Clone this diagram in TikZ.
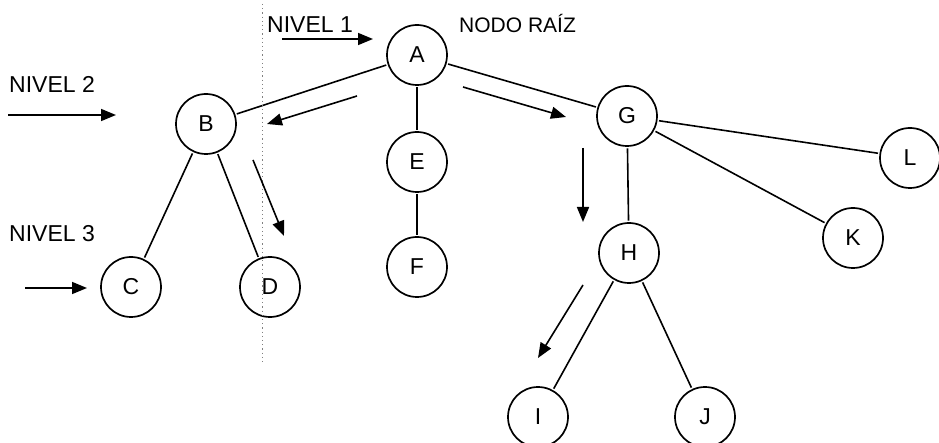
\documentclass[tikz,border=0pt]{standalone}
\usepackage{fontspec}
\setmainfont{Liberation Sans}
\usetikzlibrary{arrows.meta}
\begin{document}
\begin{tikzpicture}[x=1pt,y=-1pt,
  treenode/.style={circle,draw,line width=1.7pt,minimum size=60pt,inner sep=0pt,font=\fontsize{23}{26}\selectfont},
  branch/.style={line width=1.6pt,shorten <=1.5pt,shorten >=1.5pt},
  pointer/.style={line width=1.6pt,-{Triangle[length=15pt,width=12pt]}},
  levellabel/.style={anchor=base west,inner sep=0pt,font=\fontsize{23}{26}\selectfont},
  guide/.style={gray,line width=0.6pt,dash pattern=on 1.2pt off 3pt}]
\useasboundingbox (0,0) rectangle (939,443);

% tree nodes
\node[treenode] (A) at (417,55) {A};
\node[treenode] (B) at (206,124) {B};
\node[treenode] (C) at (131,287) {C};
\node[treenode] (D) at (270,287) {D};
\node[treenode] (E) at (417,162) {E};
\node[treenode] (F) at (417,267) {F};
\node[treenode] (G) at (627,116) {G};
\node[treenode] (H) at (629,253) {H};
\node[treenode] (I) at (538,417) {I};
\node[treenode] (J) at (705,417) {J};
\node[treenode] (K) at (853,238) {K};
\node[treenode] (L) at (910,158) {L};

% branches
\draw[branch] (A) -- (B);
\draw[branch] (A) -- (E);
\draw[branch] (A) -- (G);
\draw[branch] (B) -- (C);
\draw[branch] (B) -- (D);
\draw[branch] (E) -- (F);
\draw[branch] (G) -- (H);
\draw[branch] (G) -- (K);
\draw[branch] (G) -- (L);
\draw[branch] (H) -- (I);
\draw[branch] (H) -- (J);

% labels
\node[levellabel] (n1) at (267,33) {NIVEL 1};
\node[levellabel,font=\fontsize{21}{24}\selectfont] (root) at (459,33) {NODO RAÍZ};
\node[levellabel] (n2) at (9,93) {NIVEL 2};
\node[levellabel] (n3) at (9,242) {NIVEL 3};

% vertical guide
\coordinate (gtop) at (262,4);
\coordinate (gbot) at (262,362);
\draw[guide] (gtop) -- (gbot);

% traversal pointers
\coordinate (p1s) at (282,39);  \coordinate (p1e) at (373,39);
\coordinate (p2s) at (8,115);   \coordinate (p2e) at (116,115);
\coordinate (p3s) at (25,288);  \coordinate (p3e) at (87,288);
\coordinate (p4s) at (357,96);  \coordinate (p4e) at (267,124);
\coordinate (p5s) at (253,160); \coordinate (p5e) at (284,236);
\coordinate (p6s) at (463,87);  \coordinate (p6e) at (566,117);
\coordinate (p7s) at (583,148); \coordinate (p7e) at (583,222);
\coordinate (p8s) at (583,285); \coordinate (p8e) at (538,358);
\foreach \s/\e in {p1s/p1e,p2s/p2e,p3s/p3e,p4s/p4e,p5s/p5e,p6s/p6e,p7s/p7e,p8s/p8e}
  \draw[pointer] (\s) -- (\e);
\end{tikzpicture}
\end{document}
